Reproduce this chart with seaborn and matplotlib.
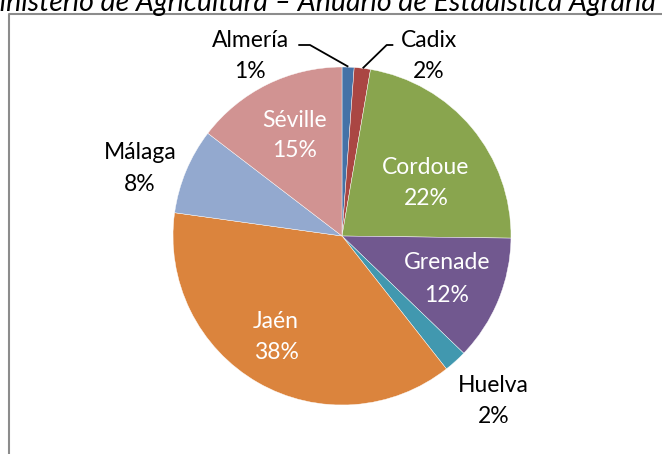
import matplotlib
matplotlib.use("Agg")
import matplotlib.pyplot as plt
import seaborn as sns

# ---- data ----
provinces = ["Almería", "Cadix", "Cordoue", "Grenade", "Huelva", "Jaén", "Málaga", "Séville"]
shares = [1.15, 1.55, 22.5, 12.0, 2.2, 37.8, 8.2, 14.6]
colors = ["#4572A7", "#AA4643", "#89A54E", "#71588F", "#4198AF", "#DB843D", "#93A9CF", "#D19392"]
title = "Ministerio de Agricultura – Anuario de Estadística Agraria"

sns.set_theme(style="white")
plt.rcParams["font.family"] = ["Lato", "DejaVu Sans"]

W, H = 662, 454
fig = plt.figure(figsize=(W / 100, H / 100), dpi=100)
ax = fig.add_axes([0, 0, 1, 1])

def Y(py):
    return H - py

cx, cy, R = 342, 236, 169
ax.pie(shares, colors=colors, startangle=90, counterclock=False,
       center=(cx, Y(cy)), radius=R,
       wedgeprops=dict(edgecolor="white", linewidth=0.3))
ax.set_xlim(0, W)
ax.set_ylim(0, H)
ax.set_aspect("equal")
ax.axis("off")

# label layout: (x center, baseline of name line, baseline of pct line, color)
layout = {
    "Almería": (250, 46.7, 78.3, "black"),
    "Cadix": (429, 46.7, 78.3, "black"),
    "Cordoue": (426, 174, 205, "white"),
    "Grenade": (447, 269.3, 301.7, "white"),
    "Huelva": (493.5, 391.7, 423.3, "black"),
    "Jaén": (276, 327.7, 359.3, "white"),
    "Málaga": (140, 159.3, 190.7, "black"),
    "Séville": (294.5, 126.7, 157.3, "white"),
}
fs = 16.5
for name, val in zip(provinces, shares):
    x, b1, b2, col = layout[name]
    ax.text(x, Y(b1), name, ha="center", va="baseline", fontsize=fs, color=col)
    ax.text(x, Y(b2), f"{val:.0f}%", ha="center", va="baseline", fontsize=fs, color=col)

# leader lines
ax.plot([298.3, 310, 348.3], [Y(45), Y(45), Y(66.7)], color="black", lw=1.3, solid_capstyle="butt")
ax.plot([393.3, 386.7, 362.7], [Y(45), Y(45), Y(68.3)], color="black", lw=1.3, solid_capstyle="butt")

# chart frame (extends beyond the image)
ax.plot([9, 9, W + 10], [-10, Y(14), Y(14)], color="#8C8C8C", lw=1.5, clip_on=False)

# clipped title at top
ax.text(-25, Y(11), title, ha="left", va="baseline", fontsize=20.5, style="italic",
        color="black", clip_on=False)

fig.savefig("out.png", dpi=100)
